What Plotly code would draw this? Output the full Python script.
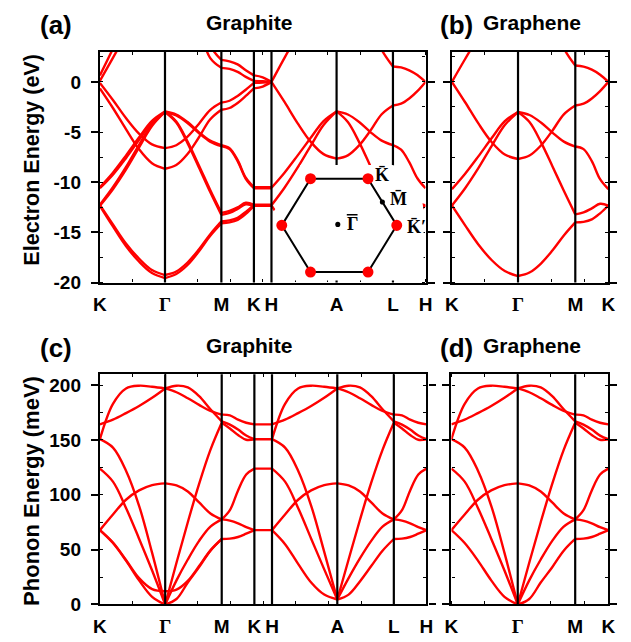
import numpy as np
import plotly.graph_objects as go

W, H = 631, 642

# ---------------- k-path (units of |ΓK|) ----------------
X_GRAPHITE = [0.0, 1.0, 1.866, 2.366, 2.636, 3.636, 4.502, 5.002]   # K Γ M K H A L H
LBL_GRAPHITE = ["K", "Γ", "M", "K", "H", "A", "L", "H"]
X_GRAPHENE = [0.0, 1.0, 1.866, 2.366]                               # K Γ M K
LBL_GRAPHENE = ["K", "Γ", "M", "K"]

# ---------------- (a) graphite electrons, eV ----------------
A_KG = [
    [0.65, 3.3, 5.9, 8.0, 10.0, 11.0],
    [0.1, 2.4, 4.7, 7.0, 9.0, 10.5],
    [-0.1, -1.8, -3.6, -5.15, -6.23, -6.6],
    [-0.65, -2.6, -4.7, -6.7, -8.1, -8.66],
    [-10.5, -9.05, -7.35, -5.55, -3.88, -2.95],
    [-10.6, -9.25, -7.6, -5.8, -4.05, -3.0],
    [-12.25, -10.5, -8.5, -6.3, -4.25, -2.95],
    [-12.35, -10.7, -8.75, -6.55, -4.4, -3.0],
    [-12.25, -14.2, -16.1, -17.6, -18.75, -19.25],
    [-12.35, -14.4, -16.35, -17.9, -19.05, -19.55],
]
A_GM = [
    [14.0, 12.0, 9.0, 5.5, 2.4, 1.4],
    [15.0, 13.0, 10.5, 7.0, 3.6, 2.19],
    [-6.6, -6.31, -5.46, -4.19, -2.81, -2.06],
    [-8.66, -8.28, -7.18, -5.54, -3.75, -2.78],
    [-2.95, -3.25, -4.0, -5.0, -5.85, -6.3],
    [-3.0, -3.35, -4.1, -5.1, -5.95, -6.4],
    [-2.95, -3.95, -5.95, -8.3, -10.75, -13.05],
    [-3.0, -4.05, -6.1, -8.5, -10.95, -13.25],
    [-19.25, -18.9, -18.0, -16.7, -15.2, -13.9],
    [-19.55, -19.15, -18.25, -16.9, -15.35, -14.1],
]
A_MK = [
    [1.4, 1.3, 1.0, 0.5, 0.1],
    [2.19, 2.05, 1.75, 1.15, 0.65],
    [-2.06, -1.88, -1.4, -0.78, -0.1],
    [-2.78, -2.6, -2.1, -1.4, -0.65],
    [-6.3, -6.6, -7.8, -9.55, -10.5],
    [-6.4, -6.7, -7.9, -9.65, -10.6],
    [-13.05, -12.85, -12.5, -12.05, -12.25],
    [-13.25, -13.05, -12.65, -12.2, -12.35],
    [-13.9, -13.8, -13.55, -12.95, -12.25],
    [-14.1, -14.0, -13.75, -13.15, -12.35],
]
A_KH = [
    [0.65, 0.46, 0.0], [0.1, 0.07, 0.0], [-0.1, -0.07, 0.0], [-0.65, -0.46, 0.0],
    [-10.5, -10.5, -10.5], [-10.6, -10.6, -10.6],
    [-12.25, -12.25, -12.25], [-12.35, -12.35, -12.35],
]
A_HA = [
    [0.0, 2.4, 4.7, 7.0, 9.0, 10.5],
    [0.0, -2.0, -4.1, -5.95, -7.2, -7.65],
    [-10.55, -9.05, -7.35, -5.6, -3.9, -2.94],
    [-12.3, -10.55, -8.55, -6.4, -4.3, -2.94],
    [-12.3, -14.3, -16.25, -17.8, -18.9, -19.4],
]
A_AL = [
    [12.0, 11.0, 9.0, 6.0, 3.2, 1.54],
    [-7.65, -7.32, -6.33, -4.86, -3.22, -2.35],
    [-2.94, -3.25, -4.0, -5.0, -5.85, -6.3],
    [-2.94, -4.0, -6.0, -8.4, -10.85, -13.15],
    [-19.4, -19.05, -18.1, -16.8, -15.3, -14.0],
]
A_LH = [
    [1.54, 1.44, 1.15, 0.68, 0.0],
    [-2.35, -2.17, -1.65, -0.92, 0.0],
    [-6.3, -6.75, -8.0, -9.6, -10.6],
    [-13.15, -12.95, -12.6, -12.15, -12.3],
    [-14.0, -13.95, -13.7, -13.1, -12.3],
]
ELEC_GRAPHITE = [A_KG, A_GM, A_MK, A_KH, A_HA, A_AL, A_LH]

# ---------------- (b) graphene electrons, eV ----------------
B_KG = [
    [0.0, 2.28, 4.5, 6.6, 8.6, 10.5],
    [0.0, -2.03, -4.14, -5.99, -7.24, -7.68],
    [-10.69, -9.15, -7.42, -5.62, -3.92, -3.0],
    [-12.32, -10.6, -8.6, -6.4, -4.3, -3.0],
    [-12.32, -14.3, -16.2, -17.75, -18.85, -19.35],
]
B_GM = [
    [11.0, 10.0, 8.5, 6.5, 3.35, 1.63],
    [-7.68, -7.34, -6.34, -4.86, -3.23, -2.35],
    [-3.0, -3.3, -4.05, -5.05, -5.95, -6.44],
    [-3.0, -4.0, -6.0, -8.4, -10.85, -13.2],
    [-19.35, -19.0, -18.1, -16.8, -15.3, -14.0],
]
B_MK = [
    [1.63, 1.52, 1.22, 0.72, 0.0],
    [-2.35, -2.17, -1.65, -0.92, 0.0],
    [-6.44, -6.7, -7.9, -9.7, -10.69],
    [-13.2, -13.0, -12.6, -12.15, -12.32],
    [-14.0, -13.95, -13.7, -13.1, -12.32],
]
ELEC_GRAPHENE = [B_KG, B_GM, B_MK]

# ---------------- (d) graphene phonons, meV ----------------
D_KG = [
    [67.8, 56.0, 40.0, 22.0, 7.0, 0.0],
    [67.8, 82.0, 95.5, 104.0, 108.8, 110.4],
    [123.9, 112.0, 88.0, 60.0, 31.0, 0.0],
    [150.7, 143.0, 122.0, 90.0, 47.0, 0.0],
    [150.7, 183.0, 197.0, 199.5, 198.5, 197.0],
    [164.2, 168.5, 174.5, 181.0, 188.5, 197.0],
]
D_GM = [
    [0.0, 5.0, 20.0, 34.0, 49.0, 59.7],
    [0.0, 22.0, 41.0, 58.0, 71.0, 77.6],
    [0.0, 38.0, 75.0, 110.0, 141.0, 165.7],
    [110.4, 108.5, 103.0, 93.0, 83.0, 77.6],
    [197.0, 199.5, 198.0, 190.0, 178.0, 167.0],
    [197.0, 193.5, 188.0, 182.0, 176.5, 173.1],
]
D_MK = [
    [59.7, 60.0, 61.5, 64.5, 67.8],
    [77.6, 76.5, 74.0, 70.5, 67.8],
    [77.6, 86.0, 104.0, 118.5, 123.9],
    [165.7, 160.5, 154.5, 150.2, 150.7],
    [167.0, 164.0, 159.5, 154.0, 150.7],
    [173.1, 172.5, 168.5, 165.7, 164.2],
]
PHON_GRAPHENE = [D_KG, D_GM, D_MK]

# ---------------- (c) graphite phonons, meV ----------------
C_KG = D_KG + [[67.8, 56.5, 40.5, 24.0, 14.0, 12.0]]
C_GM = D_GM + [[12.0, 13.5, 21.5, 35.0, 49.3, 59.7]]
C_MK = D_MK
C_KH = [[164.2] * 3, [150.7] * 3, [123.9] * 3, [67.8] * 3]
C_HA = [
    [67.8, 55.0, 37.0, 20.0, 9.0, 4.5],
    [67.8, 82.0, 95.5, 104.0, 108.8, 110.4],
    [123.9, 112.0, 88.0, 60.0, 32.0, 4.5],
    [150.7, 143.0, 122.0, 90.0, 48.0, 4.5],
    [150.7, 183.0, 197.0, 199.5, 198.5, 197.0],
    [164.2, 168.5, 174.5, 181.0, 188.5, 197.0],
]
C_AL = [
    [4.5, 9.0, 21.0, 35.0, 49.0, 59.7],
    [4.5, 24.0, 42.0, 58.0, 71.0, 77.6],
    [4.5, 41.0, 77.0, 111.0, 141.0, 165.7],
    [110.4, 108.5, 103.0, 93.0, 83.0, 77.6],
    [197.0, 199.5, 198.0, 190.0, 178.0, 167.0],
    [197.0, 193.5, 188.0, 182.0, 176.5, 173.1],
]
C_LH = D_MK
PHON_GRAPHITE = [C_KG, C_GM, C_MK, C_KH, C_HA, C_AL, C_LH]

E_TICKS = [-20, -15, -10, -5, 0]
P_TICKS = [0, 50, 100, 150, 200]

# ---------------- figure ----------------
fig = go.Figure()
RED = "#ff0000"


def add_bands(segments, X, xa, ya):
    xs, ys = [], []
    for i, seg in enumerate(segments):
        for band in seg:
            xv = np.linspace(X[i], X[i + 1], len(band))
            xs += list(xv) + [None]
            ys += list(band) + [None]
    fig.add_trace(go.Scatter(x=xs, y=ys, mode="lines", xaxis=xa, yaxis=ya,
                             line=dict(color=RED, width=2.4, shape="spline"),
                             hoverinfo="skip", showlegend=False))


add_bands(ELEC_GRAPHITE, X_GRAPHITE, "x", "y")
add_bands(ELEC_GRAPHENE, X_GRAPHENE, "x2", "y2")
add_bands(PHON_GRAPHITE, X_GRAPHITE, "x3", "y3")
add_bands(PHON_GRAPHENE, X_GRAPHENE, "x4", "y4")


def px(x):
    return x / W


def py(y):
    return 1 - y / H


FONT = "Liberation Sans"
SERIF = "Liberation Serif"


def klabel(s):
    if s == "Γ":
        return '<b><span style="font-family:%s">Γ</span></b>' % SERIF
    return "<b>%s</b>" % s


def xaxis_cfg(X, lbls, dom, anchor):
    return dict(domain=dom, anchor=anchor, range=[X[0], X[-1]],
                tickmode="array", tickvals=X, ticktext=[klabel(s) for s in lbls],
                ticks="outside", ticklen=0, ticklabelstandoff=4,
                tickfont=dict(family=FONT, size=19, color="black"),
                showline=True, linecolor="black", linewidth=2.2, mirror="allticks",
                showgrid=False, zeroline=False,
                minor=dict(tickmode="linear", tick0=0, dtick=0.5, ticks="inside",
                           ticklen=3, tickwidth=1.2, tickcolor="black"))


def yaxis_cfg(ticks, rng, minor, dom, anchor, labels):
    return dict(domain=dom, anchor=anchor, range=rng,
                tickmode="array", tickvals=ticks,
                ticktext=["<b>%s</b>" % str(t) for t in ticks],
                showticklabels=labels,
                ticks="outside", ticklen=7, tickwidth=2, tickcolor="black",
                ticklabelstandoff=6,
                tickfont=dict(family=FONT, size=19, color="black"),
                showline=True, linecolor="black", linewidth=2.2, mirror="allticks",
                showgrid=False, zeroline=False,
                minor=dict(tickmode="linear", tick0=0, dtick=minor, ticks="inside",
                           ticklen=3, tickwidth=1.2, tickcolor="black"))


DX_A = [px(95), px(428)]
DX_B = [px(455), px(615)]
DX_C = [px(95), px(429)]
DX_D = [px(454.5), px(615)]
DY_TOP = [py(287.5), py(52.7)]
DY_BOT = [py(615), py(380.7)]

fig.update_layout(
    width=W, height=H, margin=dict(l=0, r=0, t=0, b=0),
    paper_bgcolor="white", plot_bgcolor="white", showlegend=False,
    xaxis=xaxis_cfg(X_GRAPHITE, LBL_GRAPHITE, DX_A, "y"),
    yaxis=yaxis_cfg(E_TICKS, [-20, 3], 2.5, DY_TOP, "x", True),
    xaxis2=xaxis_cfg(X_GRAPHENE, LBL_GRAPHENE, DX_B, "y2"),
    yaxis2=yaxis_cfg(E_TICKS, [-20, 3], 2.5, DY_TOP, "x2", False),
    xaxis3=xaxis_cfg(X_GRAPHITE, LBL_GRAPHITE, DX_C, "y3"),
    yaxis3=yaxis_cfg(P_TICKS, [0, 210], 25, DY_BOT, "x3", True),
    xaxis4=xaxis_cfg(X_GRAPHENE, LBL_GRAPHENE, DX_D, "y4"),
    yaxis4=yaxis_cfg(P_TICKS, [0, 210], 25, DY_BOT, "x4", False),
)

shapes = []
# vertical lines at inner high-symmetry points
for X, xr, yr in [(X_GRAPHITE, "x", "y"), (X_GRAPHENE, "x2", "y2"),
                  (X_GRAPHITE, "x3", "y3"), (X_GRAPHENE, "x4", "y4")]:
    for xv in X[1:-1]:
        shapes.append(dict(type="line", xref=xr, yref=yr + " domain", x0=xv, x1=xv,
                           y0=0, y1=1, line=dict(color="black", width=2.2), layer="above"))

# inset: white mask behind the Brillouin-zone hexagon
mask_pts = [(272, 216), (298, 183), (300, 168), (394, 168), (404, 170), (424, 200),
            (426, 214), (426, 285.5), (272, 285.5)]
path = "M " + " L ".join("%.5f,%.5f" % (px(a), py(b)) for a, b in mask_pts) + " Z"
shapes.append(dict(type="path", xref="paper", yref="paper", path=path,
                   fillcolor="white", line=dict(width=0), layer="above"))

# hexagon (flat top), centre and half-widths in pixels
HEX_C = (339.8, 229.3)
HEX_RX, HEX_RY = 58.8, 47.5
hx = [HEX_C[0] + HEX_RX, HEX_C[0] + HEX_RX / 2, HEX_C[0] - HEX_RX / 2,
      HEX_C[0] - HEX_RX, HEX_C[0] - HEX_RX / 2, HEX_C[0] + HEX_RX / 2]
hy = [HEX_C[1], HEX_C[1] - HEX_RY, HEX_C[1] - HEX_RY,
      HEX_C[1], HEX_C[1] + HEX_RY, HEX_C[1] + HEX_RY]
hpath = "M " + " L ".join("%.5f,%.5f" % (px(a), py(b)) for a, b in zip(hx, hy)) + " Z"
shapes.append(dict(type="path", xref="paper", yref="paper", path=hpath,
                   line=dict(color="black", width=2), layer="above"))


def dot(cx, cy, r, color):
    return dict(type="circle", xref="paper", yref="paper",
                x0=px(cx - r), x1=px(cx + r), y0=py(cy + r), y1=py(cy - r),
                fillcolor=color, line=dict(width=0), layer="above")


for a, b in zip(hx, hy):
    shapes.append(dot(a, b, 5.6, RED))
shapes.append(dot(HEX_C[0] - 1.5, HEX_C[1] - 1, 2.6, "black"))            # Γ̄
shapes.append(dot((hx[0] + hx[1]) / 2, (hy[0] + hy[1]) / 2, 2.6, "black"))  # M̄
# overbar above the Γ label
shapes.append(dict(type="line", xref="paper", yref="paper",
                   x0=px(347.5), x1=px(358.5), y0=py(218.5), y1=py(218.5),
                   line=dict(color="black", width=1.5), layer="above"))
fig.update_layout(shapes=shapes)

ann = []


def text(x, y, s, size, family=FONT, bold=True, angle=0, xanchor="center"):
    ann.append(dict(x=px(x), y=py(y), xref="paper", yref="paper", showarrow=False,
                    text=("<b>%s</b>" % s) if bold else s, textangle=angle,
                    xanchor=xanchor, yanchor="middle",
                    font=dict(family=family, size=size, color="black")))


text(50.5, 25, "(a)", 26)
text(247.5, 23, "Graphite", 21)
text(460, 25, "(b)", 26)
text(536.5, 23, "Graphene", 21)
text(50.5, 354, "(c)", 26)
text(247.5, 352, "Graphite", 21)
text(460, 354, "(d)", 26)
text(536.5, 352, "Graphene", 21)
text(26, 163, "Electron Energy (eV)", 21.5, angle=-90)
text(25, 499, "Phonon Energy (meV)", 22, angle=-90)
# inset labels
text(384, 178, "K\u0304", 18, family=SERIF)
text(400, 202, "M\u0304", 18, family=SERIF)
text(419, 231, "K\u0304\u2032", 18, family=SERIF)
text(353, 228, "\u0393", 18, family=SERIF)
fig.update_layout(annotations=ann)

fig.write_html("out.html", config={"displayModeBar": False},
               post_script="document.body.style.margin='0px';")
